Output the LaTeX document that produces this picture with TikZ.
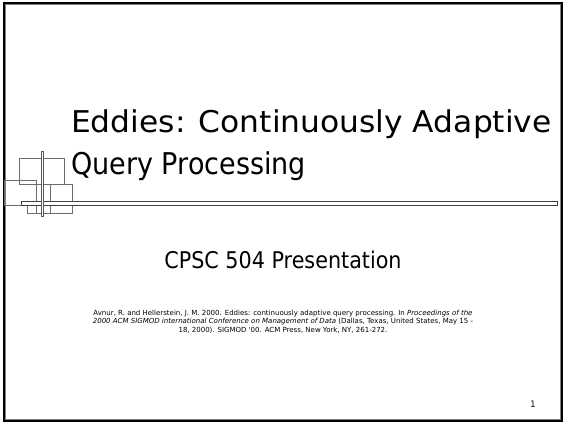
\documentclass[tikz,border=0pt]{standalone}
\usepackage{fontspec}
\setmainfont{DejaVu Sans}[FakeStretch=0.9]
\newfontfamily\reffont{DejaVu Sans}
\begin{document}
\begin{tikzpicture}[x=1pt,y=-1pt,
  deco/.style={draw=gray!85!black,line width=0.6pt},
  bar/.style={draw=black!75,fill=white,line width=0.7pt},
  txt/.style={inner sep=0pt,text=black},
  titlefont/.style={font=\fontsize{30}{36}\selectfont},
  reftext/.style={font=\reffont\fontsize{7}{8}\selectfont}]
\useasboundingbox (0,0) rectangle (564,424);
\fill[white] (0,0) rectangle (564,424);
% frame
\draw[gray,line width=0.8pt] (5.6,4.6) rectangle (560.4,419.4);
\draw[black,line width=2pt] (4,3) rectangle (562,421);
% decoration rectangles
\draw[deco] (19.3,158.3) rectangle (64,184);
\draw[deco] (4,180) rectangle (36,205.7);
\draw[deco] (36.7,184) rectangle (50,213.3);
\draw[deco] (50,184) rectangle (72.7,213.3);
\draw[deco] (27.3,205.7) rectangle (72.7,213.3);
% long bar
\draw[bar] (21,201.7) rectangle (557,205.7);
% vertical bar
\draw[bar,draw=gray!70!black] (41,151.7) rectangle (43.3,216.7);
% title
\node[txt,anchor=base west,titlefont] (t1) at (71,132) {\scalebox{1.16}[1]{Eddies: Continuously Adaptive}};
\node[txt,anchor=base west,titlefont] (t2) at (71,174) {Query Processing};
% subtitle
\node[txt,anchor=base,font=\fontsize{23}{28}\selectfont] (sub) at (283,268) {CPSC 504 Presentation};
% reference
\node[txt,anchor=base,reftext] (r1) at (283,315) {Avnur, R. and Hellerstein, J. M. 2000. Eddies: continuously adaptive query processing. In \textit{Proceedings of the}};
\node[txt,anchor=base,reftext] (r2) at (283,323.5) {\textit{2000 ACM SIGMOD international Conference on Management of Data} (Dallas, Texas, United States, May 15 -};
\node[txt,anchor=base,reftext] (r3) at (283,332) {18, 2000). SIGMOD '00. ACM Press, New York, NY, 261-272.};
% page number
\node[txt,anchor=base,font=\fontsize{9}{11}\selectfont] (pn) at (533,407) {1};
\end{tikzpicture}
\end{document}
